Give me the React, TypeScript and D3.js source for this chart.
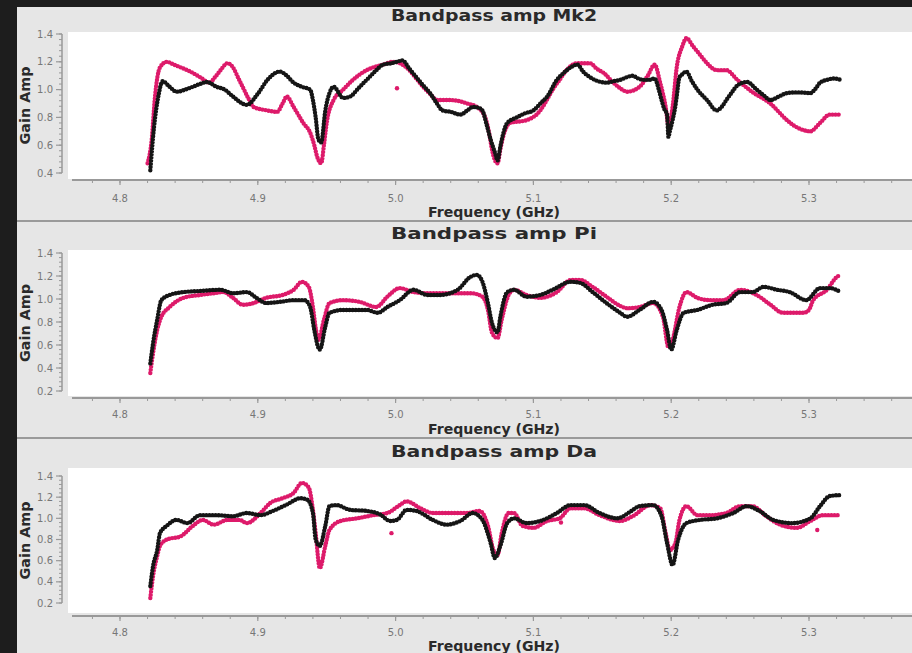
import * as d3 from 'd3';

type Pt = [number, number];

const panelTitles = ['Bandpass amp Mk2', 'Bandpass amp Pi', 'Bandpass amp Da'];
const freqTicks = [4.8, 4.9, 5.0, 5.1, 5.2, 5.3];
const yTicksMk2 = [0.4, 0.6, 0.8, 1.0, 1.2, 1.4];
const yTicksLow = [0.2, 0.4, 0.6, 0.8, 1.0, 1.2, 1.4];

// [frequency GHz, gain amp]
const mk2Black: Pt[] = [
  [4.822, 0.42], [4.8247, 0.73], [4.8278, 0.95], [4.831, 1.06], [4.836, 1.02], [4.841, 0.985], [4.85, 1.01],
  [4.858, 1.04], [4.863, 1.055], [4.87, 1.02], [4.876, 1.0], [4.882, 0.95], [4.892, 0.89], [4.9, 0.97],
  [4.907, 1.07], [4.916, 1.13], [4.921, 1.1], [4.926, 1.05], [4.932, 1.02], [4.938, 1.0], [4.94, 0.925],
  [4.942, 0.8], [4.944, 0.64], [4.946, 0.62], [4.949, 0.85], [4.952, 0.975], [4.955, 1.02], [4.962, 0.94],
  [4.967, 0.95], [4.973, 1.01], [4.979, 1.07], [4.985, 1.13], [4.991, 1.18], [4.997, 1.19], [5.001, 1.2],
  [5.005, 1.21], [5.01, 1.15], [5.015, 1.09], [5.02, 1.03], [5.025, 0.975], [5.03, 0.9], [5.034, 0.85],
  [5.04, 0.84], [5.047, 0.82], [5.052, 0.85], [5.056, 0.875], [5.06, 0.87], [5.063, 0.85], [5.066, 0.75],
  [5.069, 0.64], [5.072, 0.55], [5.074, 0.49], [5.076, 0.59], [5.078, 0.68], [5.081, 0.76], [5.088, 0.8],
  [5.094, 0.83], [5.1, 0.85], [5.105, 0.9], [5.11, 0.95], [5.117, 1.07], [5.122, 1.12], [5.127, 1.16],
  [5.132, 1.18], [5.136, 1.13], [5.141, 1.09], [5.147, 1.06], [5.153, 1.05], [5.158, 1.06], [5.163, 1.07],
  [5.168, 1.09], [5.172, 1.1], [5.176, 1.08], [5.18, 1.07], [5.184, 1.07], [5.188, 1.08], [5.191, 1.0],
  [5.193, 0.925], [5.195, 0.86], [5.197, 0.82], [5.198, 0.66], [5.199, 0.7], [5.201, 0.78], [5.203, 0.88],
  [5.204, 0.95], [5.206, 1.09], [5.208, 1.11], [5.211, 1.13], [5.215, 1.06], [5.219, 1.0], [5.226, 0.925],
  [5.233, 0.85], [5.237, 0.88], [5.24, 0.925], [5.244, 0.98], [5.248, 1.03], [5.255, 1.055], [5.262, 1.0],
  [5.267, 0.96], [5.272, 0.925], [5.278, 0.95], [5.284, 0.975], [5.292, 0.98], [5.301, 0.975], [5.305, 1.01],
  [5.308, 1.05], [5.313, 1.07], [5.318, 1.08], [5.323, 1.07],
];
const mk2Pink: Pt[] = [
  [4.82, 0.47], [4.823, 0.64], [4.8254, 0.95], [4.829, 1.16], [4.834, 1.2], [4.839, 1.18], [4.844, 1.16],
  [4.851, 1.13], [4.858, 1.09], [4.865, 1.05], [4.869, 1.09], [4.873, 1.14], [4.878, 1.19], [4.882, 1.16],
  [4.886, 1.08], [4.889, 1.02], [4.893, 0.94], [4.897, 0.875], [4.907, 0.85], [4.914, 0.84], [4.918, 0.9],
  [4.921, 0.95], [4.926, 0.875], [4.933, 0.76], [4.938, 0.69], [4.941, 0.6], [4.943, 0.52], [4.946, 0.47],
  [4.948, 0.6], [4.95, 0.76], [4.955, 0.925], [4.962, 1.0], [4.969, 1.07], [4.979, 1.14], [4.991, 1.18],
  [4.998, 1.2], [5.003, 1.19], [5.01, 1.14], [5.015, 1.08], [5.02, 1.02], [5.025, 0.97], [5.03, 0.925],
  [5.039, 0.925], [5.045, 0.92], [5.052, 0.9], [5.059, 0.875], [5.065, 0.8], [5.068, 0.68], [5.07, 0.565],
  [5.074, 0.47], [5.076, 0.57], [5.078, 0.66], [5.083, 0.76], [5.095, 0.78], [5.105, 0.85], [5.11, 0.93],
  [5.114, 1.0], [5.119, 1.07], [5.124, 1.14], [5.132, 1.19], [5.141, 1.19], [5.146, 1.15], [5.151, 1.12],
  [5.158, 1.05], [5.163, 1.01], [5.168, 0.985], [5.177, 1.02], [5.183, 1.1], [5.188, 1.18], [5.192, 1.05],
  [5.196, 0.875], [5.198, 0.745], [5.201, 0.875], [5.204, 1.16], [5.208, 1.31], [5.211, 1.37], [5.216, 1.31],
  [5.221, 1.25], [5.226, 1.19], [5.233, 1.14], [5.24, 1.14], [5.248, 1.07], [5.254, 1.02], [5.26, 0.975],
  [5.266, 0.94], [5.272, 0.9], [5.278, 0.84], [5.284, 0.78], [5.293, 0.72], [5.301, 0.7], [5.308, 0.76],
  [5.315, 0.82], [5.323, 0.82],
];
const mk2Stray: Pt[] = [[5.001, 1.01]];

const piBlack: Pt[] = [
  [4.822, 0.44], [4.824, 0.617], [4.827, 0.82], [4.83, 0.99], [4.836, 1.035], [4.846, 1.06], [4.858, 1.07],
  [4.873, 1.08], [4.882, 1.05], [4.892, 1.06], [4.899, 1.01], [4.906, 0.965], [4.916, 0.975], [4.926, 0.99],
  [4.934, 0.99], [4.938, 0.93], [4.941, 0.73], [4.944, 0.575], [4.945, 0.56], [4.949, 0.76], [4.952, 0.88],
  [4.962, 0.905], [4.979, 0.905], [4.987, 0.88], [4.994, 0.93], [5.003, 0.99], [5.013, 1.08], [5.023, 1.035],
  [5.032, 1.035], [5.045, 1.08], [5.054, 1.19], [5.059, 1.21], [5.063, 1.15], [5.067, 0.965], [5.07, 0.79],
  [5.074, 0.71], [5.076, 0.845], [5.081, 1.06], [5.086, 1.08], [5.095, 1.02], [5.105, 1.035], [5.114, 1.08],
  [5.127, 1.15], [5.134, 1.14], [5.143, 1.06], [5.153, 0.965], [5.163, 0.88], [5.168, 0.845], [5.177, 0.905],
  [5.187, 0.975], [5.193, 0.905], [5.197, 0.73], [5.2, 0.56], [5.204, 0.73], [5.209, 0.88], [5.219, 0.905],
  [5.23, 0.95], [5.24, 0.965], [5.25, 1.06], [5.259, 1.06], [5.267, 1.105], [5.277, 1.08], [5.286, 1.06],
  [5.298, 0.99], [5.308, 1.095], [5.315, 1.095], [5.323, 1.06],
];
const piPink: Pt[] = [
  [4.822, 0.357], [4.824, 0.53], [4.827, 0.73], [4.83, 0.845], [4.836, 0.93], [4.846, 1.01], [4.858, 1.035],
  [4.868, 1.05], [4.875, 1.06], [4.882, 1.01], [4.889, 0.95], [4.897, 0.965], [4.906, 1.01], [4.918, 1.035],
  [4.926, 1.08], [4.932, 1.15], [4.937, 1.105], [4.94, 0.93], [4.942, 0.75], [4.944, 0.645], [4.948, 0.82],
  [4.952, 0.965], [4.962, 0.99], [4.974, 0.975], [4.986, 0.93], [4.994, 1.02], [5.003, 1.095], [5.013, 1.06],
  [5.025, 1.05], [5.04, 1.05], [5.055, 1.05], [5.063, 1.02], [5.067, 0.905], [5.07, 0.705], [5.074, 0.66],
  [5.077, 0.82], [5.082, 1.035], [5.086, 1.08], [5.095, 1.035], [5.105, 1.01], [5.117, 1.06], [5.127, 1.165],
  [5.134, 1.165], [5.143, 1.105], [5.153, 1.02], [5.163, 0.94], [5.168, 0.92], [5.177, 0.93], [5.187, 0.965],
  [5.194, 0.845], [5.198, 0.58], [5.201, 0.645], [5.206, 0.93], [5.211, 1.06], [5.219, 1.01], [5.228, 0.99],
  [5.238, 0.99], [5.25, 1.08], [5.262, 1.035], [5.272, 0.95], [5.281, 0.88], [5.296, 0.88], [5.3, 0.905],
  [5.303, 0.99], [5.313, 1.08], [5.32, 1.19], [5.323, 1.21],
];
const piStray: Pt[] = [];

const daBlack: Pt[] = [
  [4.822, 0.36], [4.824, 0.55], [4.827, 0.7], [4.829, 0.86], [4.834, 0.93], [4.841, 0.985], [4.849, 0.955],
  [4.858, 1.03], [4.87, 1.03], [4.882, 1.02], [4.892, 1.05], [4.902, 1.03], [4.911, 1.07], [4.921, 1.13],
  [4.931, 1.19], [4.936, 1.175], [4.94, 1.05], [4.942, 0.8], [4.945, 0.74], [4.949, 0.93], [4.952, 1.115],
  [4.957, 1.125], [4.967, 1.08], [4.979, 1.07], [4.989, 1.035], [4.996, 0.975], [5.001, 0.985], [5.008, 1.08],
  [5.015, 1.07], [5.027, 0.985], [5.037, 0.94], [5.047, 0.975], [5.056, 1.05], [5.063, 0.985], [5.069, 0.765],
  [5.072, 0.625], [5.076, 0.74], [5.081, 0.955], [5.086, 1.0], [5.095, 0.955], [5.105, 0.975], [5.117, 1.05],
  [5.127, 1.125], [5.137, 1.125], [5.148, 1.05], [5.161, 1.0], [5.17, 1.06], [5.177, 1.115], [5.187, 1.125],
  [5.193, 1.02], [5.197, 0.765], [5.201, 0.56], [5.205, 0.795], [5.211, 0.955], [5.221, 0.985], [5.233, 1.0],
  [5.245, 1.05], [5.255, 1.115], [5.264, 1.07], [5.274, 0.985], [5.288, 0.955], [5.301, 1.0], [5.308, 1.115],
  [5.315, 1.21], [5.323, 1.22],
];
const daPink: Pt[] = [
  [4.822, 0.247], [4.824, 0.455], [4.827, 0.645], [4.829, 0.74], [4.834, 0.8], [4.844, 0.83], [4.853, 0.93],
  [4.86, 0.985], [4.868, 0.94], [4.878, 0.985], [4.887, 0.985], [4.892, 0.955], [4.902, 1.05], [4.909, 1.145],
  [4.918, 1.19], [4.926, 1.24], [4.932, 1.335], [4.937, 1.29], [4.94, 1.08], [4.942, 0.86], [4.945, 0.53],
  [4.949, 0.74], [4.952, 0.89], [4.96, 0.975], [4.972, 1.0], [4.984, 1.03], [4.994, 1.05], [5.003, 1.125],
  [5.008, 1.16], [5.018, 1.095], [5.027, 1.05], [5.039, 1.05], [5.052, 1.05], [5.061, 1.07], [5.067, 0.93],
  [5.071, 0.7], [5.074, 0.655], [5.077, 0.86], [5.082, 1.05], [5.086, 1.05], [5.092, 0.93], [5.1, 0.91],
  [5.11, 0.975], [5.119, 1.0], [5.127, 1.095], [5.137, 1.095], [5.148, 1.03], [5.163, 0.975], [5.172, 1.02],
  [5.185, 1.125], [5.192, 1.095], [5.196, 0.86], [5.199, 0.7], [5.203, 0.765], [5.206, 0.985], [5.211, 1.115],
  [5.219, 1.03], [5.228, 1.03], [5.24, 1.05], [5.25, 1.115], [5.259, 1.115], [5.269, 1.02], [5.279, 0.94],
  [5.291, 0.91], [5.301, 0.975], [5.31, 1.03], [5.323, 1.03],
];
const daStray: Pt[] = [[4.997, 0.86], [5.12, 0.96], [5.306, 0.89]];

const W = 912;
const H = 653;
const PINK = '#dd1a6a';
const BLACK = '#151515';
const FONT = '"DejaVu Sans", sans-serif';

const panels = [
  { title: panelTitles[0], black: mk2Black, pink: mk2Pink, stray: mk2Stray, yTicks: yTicksMk2, yRange: [173, 34], top: 32, bottom: 179, axisY: 180, titleY: 21, tickY: 201.5, labelY: 217 },
  { title: panelTitles[1], black: piBlack, pink: piPink, stray: piStray, yTicks: yTicksLow, yRange: [391, 253], top: 250, bottom: 396, axisY: 398, titleY: 238.5, tickY: 418, labelY: 434 },
  { title: panelTitles[2], black: daBlack, pink: daPink, stray: daStray, yTicks: yTicksLow, yRange: [603, 476], top: 468, bottom: 613, axisY: 616, titleY: 456.5, tickY: 636, labelY: 651 },
];

const x = d3.scaleLinear().domain([4.8, 5.3]).range([120, 809]);
const plotLeft = 68;
const yAxisX = 62;
const minorFreq = d3.range(4.78, 5.37, 0.02).map((d) => +d.toFixed(2));

function Panel({ p, i }: { p: (typeof panels)[number]; i: number }) {
  const y = d3.scaleLinear().domain([p.yTicks[0], p.yTicks[p.yTicks.length - 1]]).range(p.yRange);
  const line = d3
    .line<Pt>()
    .x((d) => x(d[0]))
    .y((d) => y(d[1]))
    .curve(d3.curveMonotoneX);
  const yMinor = d3.range(p.yTicks[0], p.yTicks[p.yTicks.length - 1] + 0.001, 0.04);
  const clipId = `clip-${i}`;
  // dense round dashes give the beaded look of the per-channel dots
  const dotStyle = { fill: 'none', strokeWidth: 4.4, strokeLinecap: 'round' as const, strokeDasharray: '0 3.1' };
  return (
    <g>
      <text x={494} y={p.titleY} textAnchor="middle" fontFamily={FONT} fontWeight="bold" fontSize={16} fill="#2a2a2a" textLength={206} lengthAdjust="spacingAndGlyphs">
        {p.title}
      </text>
      <rect x={plotLeft} y={p.top} width={W - plotLeft} height={p.bottom - p.top} fill="#fff" />
      <clipPath id={clipId}>
        <rect x={plotLeft} y={p.top} width={W - plotLeft} height={p.bottom - p.top} />
      </clipPath>
      <g clipPath={`url(#${clipId})`}>
        <path d={line(p.pink) ?? ''} stroke={PINK} {...dotStyle} />
        <path d={line(p.black) ?? ''} stroke={BLACK} {...dotStyle} />
        {p.stray.map((d, k) => (
          <circle key={k} cx={x(d[0])} cy={y(d[1])} r={2.2} fill={PINK} />
        ))}
      </g>
      {/* y axis */}
      <line x1={yAxisX} x2={yAxisX} y1={y(p.yTicks[p.yTicks.length - 1])} y2={y(p.yTicks[0])} stroke="#999" strokeWidth={1.5} />
      {yMinor.map((v, k) => (
        <line key={k} x1={yAxisX - 3} x2={yAxisX} y1={y(v)} y2={y(v)} stroke="#999" strokeWidth={1} />
      ))}
      {p.yTicks.map((v) => (
        <g key={v}>
          <line x1={yAxisX - 6} x2={yAxisX} y1={y(v)} y2={y(v)} stroke="#999" strokeWidth={1.2} />
          <text x={yAxisX - 9} y={y(v) + 3.5} textAnchor="end" fontFamily={FONT} fontSize={10} fill="#777">
            {v.toFixed(1)}
          </text>
        </g>
      ))}
      <text
        transform={`translate(30,${(p.top + p.bottom) / 2}) rotate(-90)`}
        textAnchor="middle"
        fontFamily={FONT}
        fontWeight="bold"
        fontSize={13.5}
        fill="#2a2a2a"
        textLength={78}
        lengthAdjust="spacingAndGlyphs"
      >
        Gain Amp
      </text>
      {/* x axis */}
      <line x1={72} x2={W} y1={p.axisY} y2={p.axisY} stroke="#999" strokeWidth={2} />
      {minorFreq.map((f) => (
        <line key={f} x1={x(f)} x2={x(f)} y1={p.axisY} y2={p.axisY + 3} stroke="#999" strokeWidth={1} />
      ))}
      {freqTicks.map((f) => (
        <g key={f}>
          <line x1={x(f)} x2={x(f)} y1={p.axisY} y2={p.axisY + 5} stroke="#999" strokeWidth={1.2} />
          <text x={x(f)} y={p.tickY} textAnchor="middle" fontFamily={FONT} fontSize={10} fill="#777">
            {f.toFixed(1)}
          </text>
        </g>
      ))}
      <text x={494} y={p.labelY} textAnchor="middle" fontFamily={FONT} fontWeight="bold" fontSize={13.5} fill="#2a2a2a" textLength={132} lengthAdjust="spacingAndGlyphs">
        Frequency (GHz)
      </text>
    </g>
  );
}

export default function App() {
  return (
    <svg width={W} height={H} style={{ position: 'absolute', left: 0, top: 0, display: 'block' }}>
      <rect width={W} height={H} fill="#1d1d1d" />
      <rect x={17} y={7} width={W - 17} height={H - 7} fill="#e6e6e6" />
      <line x1={17} x2={W} y1={221} y2={221} stroke="#9a9a9a" strokeWidth={2} />
      <line x1={17} x2={W} y1={438} y2={438} stroke="#9a9a9a" strokeWidth={2} />
      {panels.map((p, i) => (
        <Panel key={p.title} p={p} i={i} />
      ))}
    </svg>
  );
}
